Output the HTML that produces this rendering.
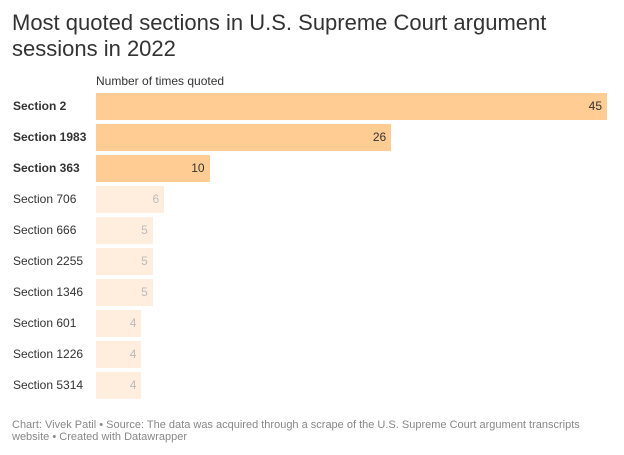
<!DOCTYPE html>
<html><head><meta charset="utf-8"><style>
body{margin:0;width:624px;height:455px;background:#fff;font-family:"Liberation Sans",sans-serif;position:relative;overflow:hidden}
#title{position:absolute;left:12px;top:10px;font-size:22px;line-height:26px;color:#333;width:600px}
#sub{position:absolute;left:96px;top:74px;font-size:12px;color:#333}
.lbl{position:absolute;left:13px;font-size:12px;color:#333;line-height:14px}
.bar{position:absolute;height:27px}
.val{position:absolute;font-size:12px;line-height:14px;text-align:right}
#foot{position:absolute;left:12px;top:419px;font-size:11px;line-height:12px;color:#888;width:590px}
</style></head><body>
<div id="title">Most quoted sections in U.S. Supreme Court argument sessions in 2022</div>
<div id="sub">Number of times quoted</div>
<div id="chart"></div>
<div id="foot">Chart: Vivek Patil • Source: The data was acquired through a scrape of the U.S. Supreme Court argument transcripts website • Created with Datawrapper</div>
<script>
const categories=["Section 2","Section 1983","Section 363","Section 706","Section 666","Section 2255","Section 1346","Section 601","Section 1226","Section 5314"];
const values=[45,26,10,6,5,5,5,4,4,4];
const highlighted=[true,true,true,false,false,false,false,false,false,false];
const x0=96,x1=607,maxV=45,top0=93,pitch=31;
const xs=v=>v/maxV*(x1-x0);
const c=document.getElementById('chart');
categories.forEach((cat,i)=>{
  const y=top0+i*pitch,w=xs(values[i]),h=highlighted[i];
  const l=document.createElement('div');l.className='lbl';
  
  
  l.style.top=(y+6)+'px';if(h)l.style.fontWeight='bold';l.textContent=cat;c.appendChild(l);
  const b=document.createElement('div');b.className='bar';
  
  
  b.style.left=x0+'px';b.style.top=y+'px';b.style.width=w+'px';b.style.background=h?'#ffcc94':'#ffeedd';c.appendChild(b);
  const v=document.createElement('div');v.className='val';
  
  
  v.style.left=(x0+w-45)+'px';v.style.width='40px';v.style.top=(y+6)+'px';v.style.color=h?'#333':'#bbb';v.textContent=values[i];c.appendChild(v);
});
</script>
</body></html>
